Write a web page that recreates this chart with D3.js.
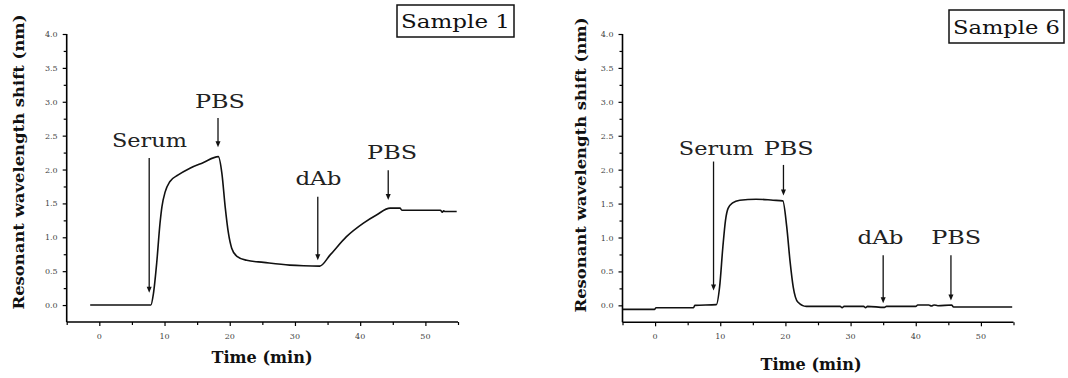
<!DOCTYPE html>
<html>
<head>
<meta charset="utf-8">
<script src="https://cdn.jsdelivr.net/npm/d3@7"></script>
<style>
  html, body { margin: 0; padding: 0; background: #fff; }
  svg { display: block; }
</style>
</head>
<body>
<div id="chart"></div>
<script>
// sample 1 trace (time in min, shift in nm)
const sample1Time = [-1.4, 7.9, 8.3, 8.8, 9.3, 9.6, 10.1, 10.8, 12.1, 13.9, 15.9, 18.25, 18.8, 19.3, 19.8, 20.3, 21.1, 22.6, 25.2, 29.2, 31.3, 33.8, 35.4, 37.9, 40.5, 42.5, 44.6, 46.1, 46.4, 52.3, 52.6, 52.8, 53.0, 54.8];
const sample1Shift = [0, 0, 0.17, 0.62, 1.2, 1.45, 1.67, 1.82, 1.92, 2.02, 2.10, 2.19, 1.94, 1.45, 1.06, 0.84, 0.72, 0.66, 0.63, 0.59, 0.58, 0.575, 0.74, 1.01, 1.21, 1.33, 1.43, 1.43, 1.40, 1.40, 1.37, 1.39, 1.38, 1.38];

// sample 6 trace
const sample6Time = [-5, -0.1, 0.15, 5.9, 6.1, 9.4, 9.9, 10.4, 10.8, 11.2, 11.9, 13.0, 15.5, 18.1, 19.6, 20.2, 20.7, 21.2, 21.9, 23.2, 28.4, 28.7, 29.0, 32.0, 32.3, 32.6, 35.2, 35.5, 40.0, 40.3, 42.0, 42.4, 42.8, 43.4, 45.5, 45.8, 54.8];
const sample6Shift = [-0.06, -0.06, -0.035, -0.035, 0.0, 0.01, 0.27, 0.86, 1.25, 1.43, 1.51, 1.55, 1.565, 1.55, 1.54, 1.16, 0.66, 0.27, 0.05, -0.015, -0.015, -0.035, -0.015, -0.015, -0.035, -0.015, -0.03, -0.015, -0.015, 0.005, 0.005, -0.01, 0.005, -0.005, 0.005, -0.025, -0.025];

// annotations: label, arrow time, arrow top / bottom, label time, label baseline (data units)
const sample1Labels = ['Serum', 'PBS', 'dAb', 'PBS'];
const sample1ArrowT = [7.65, 18.2, 33.5, 44.3];
const sample1ArrowTop = [2.17, 2.76, 1.60, 1.99];
const sample1ArrowEnd = [0.18, 2.33, 0.66, 1.55];
const sample1LabelT = [7.7, 18.5, 33.6, 44.9];
const sample1LabelV = [2.33, 2.91, 1.77, 2.15];

const sample6Labels = ['Serum', 'PBS', 'dAb', 'PBS'];
const sample6ArrowT = [8.97, 19.7, 35.0, 45.4];
const sample6ArrowTop = [2.12, 2.07, 0.74, 0.74];
const sample6ArrowEnd = [0.22, 1.62, 0.03, 0.07];
const sample6LabelT = [9.4, 20.5, 34.6, 46.2];
const sample6LabelV = [2.21, 2.21, 0.91, 0.91];

const xTicks = [0, 10, 20, 30, 40, 50];
const yTicks = [0, 0.5, 1.0, 1.5, 2.0, 2.5, 3.0, 3.5, 4.0];

const labelWidth = { 'Serum': 75, 'PBS': 50, 'dAb': 46 };

const width = 1068, height = 378;
const svg = d3.select('#chart').append('svg')
  .attr('width', width)
  .attr('height', height);

function drawPanel(opt) {
  const x = d3.scaleLinear().domain([-5, 55]).range([opt.left, opt.right]);
  const y = d3.scaleLinear().domain([-0.25, 4]).range([opt.bottom, 34]);
  const g = svg.append('g');

  // axes with minor ticks
  const xAxis = d3.axisBottom(x).tickValues(d3.range(-5, 56, 5)).tickSize(4).tickFormat('');
  g.append('g').attr('transform', `translate(0,${opt.bottom})`).call(xAxis)
    .call(a => a.selectAll('.tick line').attr('stroke-width', 1.2).attr('y2', (d) => d % 10 === 0 ? 4 : 3))
    .call(a => a.select('.domain').attr('stroke-width', 1.6).attr('d', `M${opt.left},0H${opt.right}`));

  g.append('g').attr('transform', `translate(0,${opt.bottom})`)
    .selectAll('text').data(xTicks).enter().append('text')
    .attr('x', d => x(d)).attr('y', 17)
    .attr('text-anchor', 'middle')
    .style('font-family', 'DejaVu Serif').style('font-size', '8px').style('fill', '#444')
    .text(d => d);

  const yAxis = d3.axisLeft(y).tickValues(d3.range(0, 4.01, 0.25)).tickSize(4).tickFormat('');
  g.append('g').attr('transform', `translate(${opt.left},0)`).call(yAxis)
    .call(a => a.selectAll('.tick line').attr('stroke-width', 1.2).attr('x2', (d) => Math.abs(d * 2 - Math.round(d * 2)) < 1e-6 ? -4 : -3))
    .call(a => a.select('.domain').attr('stroke-width', 1.6).attr('d', `M0,${opt.bottom}V34`));

  g.append('g').selectAll('text').data(yTicks).enter().append('text')
    .attr('x', opt.left - 9).attr('y', d => y(d) + 3)
    .attr('text-anchor', 'end')
    .style('font-family', 'DejaVu Serif').style('font-size', '8px').style('fill', '#444')
    .text(d => d3.format('.1f')(d));

  // axis titles
  g.append('text')
    .attr('transform', `translate(${opt.yTitleX},${opt.yTitleY}) rotate(-90)`)
    .attr('text-anchor', 'middle')
    .attr('textLength', 295).attr('lengthAdjust', 'spacingAndGlyphs')
    .style('font-family', 'DejaVu Serif').style('font-weight', 'bold').style('font-size', '14px').style('fill', '#111')
    .text('Resonant wavelength shift (nm)');

  g.append('text')
    .attr('x', opt.xTitleX).attr('y', opt.xTitleY)
    .attr('text-anchor', 'middle')
    .attr('textLength', 101).attr('lengthAdjust', 'spacingAndGlyphs')
    .style('font-family', 'DejaVu Serif').style('font-weight', 'bold').style('font-size', '16px').style('fill', '#111')
    .text('Time (min)');

  // trace
  const pts = opt.time.map((t, i) => [t, opt.shift[i]]);
  g.append('path')
    .datum(pts)
    .attr('fill', 'none')
    .attr('stroke', '#111')
    .attr('stroke-width', 1.6)
    .attr('d', d3.line().x(d => x(d[0])).y(d => y(d[1])).curve(d3.curveMonotoneX));

  // annotations
  opt.labels.forEach((lab, i) => {
    const ax = x(opt.arrowT[i]);
    const ay = y(opt.arrowEnd[i]);
    g.append('line')
      .attr('x1', ax).attr('x2', ax)
      .attr('y1', y(opt.arrowTop[i])).attr('y2', ay - 3)
      .attr('stroke', '#111').attr('stroke-width', 1.3);
    g.append('path')
      .attr('d', `M${ax - 2.5},${ay - 6}L${ax + 2.5},${ay - 6}L${ax},${ay}Z`)
      .attr('fill', '#111');
    g.append('text')
      .attr('x', x(opt.labelT[i])).attr('y', y(opt.labelV[i]))
      .attr('text-anchor', 'middle')
      .attr('textLength', labelWidth[lab]).attr('lengthAdjust', 'spacingAndGlyphs')
      .style('font-family', 'DejaVu Serif').style('font-size', '19px').style('fill', '#222')
      .text(lab);
  });

  // sample box
  const bg = g.append('g');
  bg.append('rect')
    .attr('x', opt.box[0]).attr('y', opt.box[1])
    .attr('width', opt.box[2]).attr('height', opt.box[3])
    .attr('fill', '#fff').attr('stroke', '#111').attr('stroke-width', 1.5);
  bg.append('text')
    .attr('x', opt.box[0] + opt.box[2] / 2).attr('y', opt.box[1] + opt.box[3] - 9)
    .attr('text-anchor', 'middle')
    .attr('textLength', opt.box[2] - 8).attr('lengthAdjust', 'spacingAndGlyphs')
    .style('font-family', 'DejaVu Serif').style('font-size', '19px').style('fill', '#111')
    .text(opt.title);
}

drawPanel({
  left: 66.7, right: 458, bottom: 322,
  time: sample1Time, shift: sample1Shift,
  labels: sample1Labels, arrowT: sample1ArrowT, arrowTop: sample1ArrowTop, arrowEnd: sample1ArrowEnd,
  labelT: sample1LabelT, labelV: sample1LabelV,
  yTitleX: 24, yTitleY: 162, xTitleX: 262, xTitleY: 363,
  box: [397, 5, 117, 32], title: 'Sample 1'
});

drawPanel({
  left: 622.5, right: 1013.5, bottom: 322.3,
  time: sample6Time, shift: sample6Shift,
  labels: sample6Labels, arrowT: sample6ArrowT, arrowTop: sample6ArrowTop, arrowEnd: sample6ArrowEnd,
  labelT: sample6LabelT, labelV: sample6LabelV,
  yTitleX: 586, yTitleY: 165, xTitleX: 811, xTitleY: 370,
  box: [949, 10, 115, 33], title: 'Sample 6'
});
</script>
</body>
</html>
